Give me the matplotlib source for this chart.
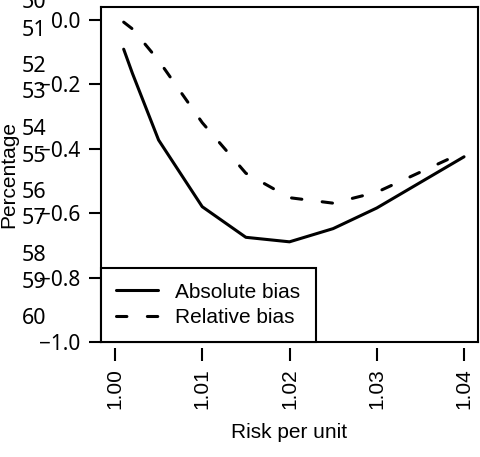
import numpy as np
import matplotlib
matplotlib.use("Agg")
import matplotlib.pyplot as plt

# risk per unit and the two bias curves
risk = [1.001, 1.002, 1.005, 1.010, 1.015, 1.020, 1.025, 1.030, 1.040]
abs_bias = [-0.091, -0.166, -0.373, -0.580, -0.675, -0.689, -0.648, -0.584, -0.425]
rel_bias = [-0.007, -0.028, -0.126, -0.319, -0.476, -0.552, -0.569, -0.535, -0.410]

xticks = [1.00, 1.01, 1.02, 1.03, 1.04]
xticklabels = ["1.00", "1.01", "1.02", "1.03", "1.04"]
yticks = [0.0, -0.2, -0.4, -0.6, -0.8, -1.0]
yticklabels = ["0.0", "\u22120.2", "\u22120.4", "\u22120.6", "\u22120.8", "\u22121.0"]
pct_labels = [str(v) for v in range(50, 61)]

W, H = 481, 457
fig = plt.figure(figsize=(W / 100, H / 100), dpi=100)
ax = fig.add_axes([101 / W, 1 - 342 / H, 377 / W, 335 / H])

# x axis sits a little below the box, so move the spine before setting ticks
ax.spines["bottom"].set_position(("outward", 4))
ax.spines["bottom"].set_visible(False)

lw = 2.2
ax.plot(risk, abs_bias, color="black", lw=lw, solid_capstyle="round",
        solid_joinstyle="round", label="Absolute bias")
ax.plot(risk, rel_bias, color="black", lw=lw, dashes=(3.4, 6.7),
        dash_capstyle="round", label="Relative bias")

ax.set_xlim(0.9984, 1.0416)
ax.set_ylim(-1.0, 0.04)

ax.set_xticks(xticks)
ax.set_xticklabels(xticklabels, rotation=90, family="Liberation Sans", fontsize=15)
ax.set_yticks(yticks)
ax.set_yticklabels(yticklabels, family="Noto Sans", fontsize=15)
ax.tick_params(axis="x", length=9.5, width=1.5, pad=5.5)
ax.tick_params(axis="y", length=8.6, width=1.5, pad=6.5)

for s in ax.spines.values():
    s.set_linewidth(1.5)
ax.plot([0, 1], [0, 0], transform=ax.transAxes, color="black", lw=1.5,
        clip_on=False)

leg = ax.legend(loc="lower left", borderaxespad=0, fancybox=False,
                framealpha=1, edgecolor="black", handlelength=2.0,
                handletextpad=0.85, borderpad=0.72, labelspacing=0.3,
                prop={"family": "Liberation Sans", "size": 15})
leg.get_frame().set_linewidth(1.5)

# stray percentage scale printed over the y axis
for i, lab in enumerate(pct_labels):
    k = i // 2
    ypx = 2.75 + 63.25 * k if i % 2 == 0 else 30 + 63 * k
    fig.text(46 / W, 1 - ypx / H, lab, ha="right", va="center",
             family="Noto Sans", fontsize=15.5)

fig.text(9 / W, 1 - 174 / H, "Percentage", rotation=90, ha="center",
         va="center", family="Liberation Sans", fontsize=15)
fig.text(289.5 / W, 1 - 432 / H, "Risk per unit", ha="center", va="center",
         family="Liberation Sans", fontsize=15)

fig.savefig("out.png", dpi=100)
